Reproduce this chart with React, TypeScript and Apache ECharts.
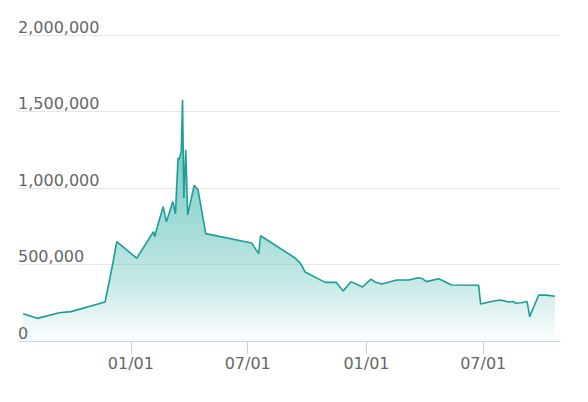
import React, { useEffect, useRef } from "react";
import * as echarts from "echarts";

const dates: string[] = [
  "2020-07-18", "2020-08-09", "2020-09-12", "2020-09-30", "2020-11-22", "2020-12-04", "2020-12-10",
  "2021-01-10", "2021-02-05", "2021-02-07", "2021-02-11", "2021-02-20", "2021-02-25", "2021-03-07",
  "2021-03-11", "2021-03-15", "2021-03-17", "2021-03-20", "2021-03-22", "2021-03-24", "2021-03-27",
  "2021-03-30", "2021-04-09", "2021-04-15", "2021-04-27", "2021-07-07", "2021-07-18", "2021-07-21",
  "2021-09-13", "2021-09-21", "2021-09-28", "2021-10-29", "2021-11-15", "2021-11-26", "2021-12-08",
  "2021-12-26", "2022-01-08", "2022-01-14", "2022-01-25", "2022-02-17", "2022-03-08", "2022-03-22",
  "2022-03-28", "2022-04-04", "2022-04-23", "2022-05-13", "2022-06-24", "2022-06-27", "2022-07-12",
  "2022-07-27", "2022-08-10", "2022-08-17", "2022-08-20", "2022-08-29", "2022-09-07", "2022-09-11",
  "2022-09-25", "2022-10-07", "2022-10-20",
];

const values: number[] = [
  178000, 148000, 185000, 192000, 255000, 508000, 649000,
  541000, 715000, 682000, 748000, 878000, 780000, 911000,
  831000, 1195000, 1188000, 1238000, 1576000, 935000, 1249000,
  824000, 1017000, 988000, 702000, 641000, 571000, 688000,
  541000, 506000, 451000, 383000, 384000, 327000, 388000,
  353000, 404000, 386000, 373000, 399000, 399000, 413000,
  409000, 388000, 407000, 366000, 364000, 242000, 257000,
  268000, 255000, 258000, 247000, 250000, 258000, 159000,
  301000, 300000, 293000,
];

const xMin = "2020-07-10";
const xMax = "2022-10-28";
const yMax = 2000000;
const yInterval = 500000;

export default function App() {
  const ref = useRef<HTMLDivElement>(null);
  useEffect(() => {
    if (!ref.current) return;
    const chart = echarts.init(ref.current, null, { renderer: "svg" });
    const halfYear = 182 * 24 * 3600 * 1000;
    chart.setOption({
      animation: false,
      backgroundColor: "#ffffff",
      grid: { left: 18, right: 28, top: 35, bottom: 61 },
      textStyle: { fontFamily: "DejaVu Sans" },
      xAxis: {
        type: "time",
        min: xMin,
        max: xMax,
        minInterval: halfYear,
        maxInterval: halfYear,
        axisLine: { lineStyle: { color: "#ccd6eb", width: 1 } },
        axisTick: { show: true, length: 13, lineStyle: { color: "#c4cfe4", width: 1 } },
        splitLine: { show: false },
        axisLabel: {
          formatter: "{MM}/{dd}",
          color: "#666666",
          fontSize: 16,
          fontFamily: "DejaVu Sans",
          margin: 14,
          showMinLabel: false,
          showMaxLabel: false,
        },
      },
      yAxis: {
        type: "value",
        min: 0,
        max: yMax,
        interval: yInterval,
        axisLine: { show: false },
        axisTick: { show: false },
        splitLine: { lineStyle: { color: "#e6e6e6", width: 1 } },
        axisLabel: {
          inside: true,
          margin: 0,
          verticalAlign: "bottom",
          color: "#666666",
          fontSize: 16,
          fontFamily: "DejaVu Sans",
          formatter: (v: number) => v.toLocaleString("en-US"),
        },
      },
      series: [
        {
          type: "line",
          data: dates.map((d, i) => [d, values[i]]),
          showSymbol: false,
          symbol: "none",
          lineStyle: { color: "#1a9e95", width: 1.6 },
          itemStyle: { color: "#1a9e95" },
          areaStyle: {
            color: new echarts.graphic.LinearGradient(0, 0, 0, 1, [
              { offset: 0, color: "rgba(26,166,156,0.95)" },
              { offset: 0.55, color: "rgba(26,166,156,0.55)" },
              { offset: 0.75, color: "rgba(26,166,156,0.36)" },
              { offset: 1, color: "rgba(26,166,156,0.02)" },
            ]),
          },
        },
      ],
    });
    return () => chart.dispose();
  }, []);
  return (
    <div
      ref={ref}
      style={{ position: "absolute", left: 0, top: 0, width: 588, height: 402 }}
    />
  );
}
